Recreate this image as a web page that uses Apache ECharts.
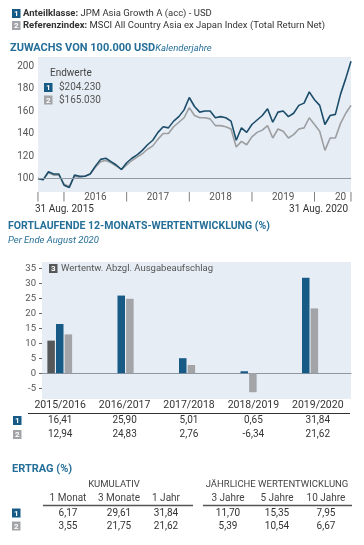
<!DOCTYPE html>
<html><head><meta charset="utf-8">
<script src="https://cdn.jsdelivr.net/npm/echarts@6/dist/echarts.min.js"></script>
<style>html,body{margin:0;padding:0;background:#fff}#c{width:364px;height:545px}</style>
</head><body><div id="c"></div>
<script>
// ---------- DATA ----------
const fundName = 'Anteilklasse:';
const fundText = 'JPM Asia Growth A (acc) - USD';
const idxName = 'Referenzindex:';
const idxText = 'MSCI All Country Asia ex Japan Index (Total Return Net)';

// monthly growth of 100 (Aug 2015 .. Aug 2020), values in thousand USD
const fundGrowth = [100,99,106,104,104,94,92,103,102,102,104,111,117,118,115,112,108,114,118,121,125,130,134,141,146,145,151,155,161,172,164,159,160,160,154,155,154,151,134,145,141,148,152,156,162,150,159,160,155,158,165,167,177,170,165,148,156,157,175,189,204.23];
const indexGrowth = [100,99,105,103,103,95,93,102,101,102,104,110,115,116,114,111,108,112,116,119,122,126,129,135,140,140,146,150,154,163,156,154,154,153,147,147,146,144,128,133,130,137,141,143,147,136,144,142,136,139,144,145,154,148,142,125,136,136,149,158,165.03];
const lineYTicks = [100,120,140,160,180,200];
const sepTickIdx = [0,5,17,29,41,53,60];
const yearTickIdx = [11,23,35,47,58];
const yearTickText = ['2016','2017','2018','2019','20'];
const startLabel = '31 Aug. 2015';
const endLabel = '31 Aug. 2020';

const barCats = ['2015/2016','2016/2017','2017/2018','2018/2019','2019/2020'];
const fundBars = [16.41,25.90,5.01,0.65,31.84];
const indexBars = [12.94,24.83,2.76,-6.34,21.62];
const chargeBars = [10.87,null,null,null,null];
const barYTicks = [-5,0,5,10,15,20,25,30,35];

const retGroups = ['KUMULATIV','JÄHRLICHE WERTENTWICKLUNG'];
const retHeaders = ['1 Monat','3 Monate','1 Jahr','3 Jahre','5 Jahre','10 Jahre'];
const fundRet = [6.17,29.61,31.84,11.70,15.35,7.95];
const indexRet = [3.55,21.75,21.62,5.39,10.54,6.67];

// ---------- STYLE ----------
const F = 'Roboto';
const TEAL = '#256f98';
const C1 = '#175a86', C2 = '#a2a4a7', C3 = '#555759';
const LINE1 = '#1c4d6a', LINE2 = '#9c9ea1';
const PANEL = '#e6edf4';
const TXT = '#333';

const months = [];
for (let i = 0; i <= 60; i++) { const m = (7 + i) % 12, y = 2015 + Math.floor((7 + i) / 12); months.push(y + '-' + String(m + 1).padStart(2, '0')); }
const fmt = v => v.toFixed(2).replace('.', ',');
const fmtUsd = v => '$' + Math.round(v * 1000).toString().replace(/\B(?=(\d{3})+(?!\d))/g, '.');

function badge(x, cy, n, color) {
  return { type: 'group', children: [
    { type: 'rect', shape: { x: x, y: cy - 4.5, width: 8.5, height: 9 }, style: { fill: color } },
    { type: 'text', x: x + 4.25, y: cy + 0.5, style: { text: String(n), fill: '#fff', fontFamily: F, fontWeight: 'bold', fontSize: 8, align: 'center', verticalAlign: 'middle' } }
  ]};
}
function txt(x, y, t, o) {
  o = o || {};
  return { type: 'text', x: x, y: y, style: Object.assign({ text: t, fill: TXT, fontFamily: F, fontSize: 10, align: 'left', verticalAlign: 'middle' }, o) };
}

const g = [];
// header
g.push(badge(12, 13.5, 1, C1));
g.push(txt(23, 13.5, '{b|' + fundName + '} ' + fundText, { fontSize: 9.5, rich: { b: { fontWeight: 'bold', fontSize: 9.5, fontFamily: F, fill: TXT } } }));
g.push(badge(12, 25.5, 2, C2));
g.push(txt(23, 25.5, '{b|' + idxName + '} ' + idxText, { fontSize: 9.5, rich: { b: { fontWeight: 'bold', fontSize: 9.5, fontFamily: F, fill: TXT } } }));
g.push(txt(10, 48.5, '{t|ZUWACHS VON 100.000 USD}{i|Kalenderjahre}', { rich: { t: { fontWeight: 'bold', fontSize: 11, fontFamily: F, fill: TEAL }, i: { fontStyle: 'italic', fontSize: 9.5, fontFamily: F, fill: TEAL } } }));
// line legend
g.push(txt(50, 73, 'Endwerte', { fill: '#444', fontSize: 10 }));
g.push(badge(44, 87.5, 1, C1));
g.push(txt(59, 87.5, fmtUsd(fundGrowth[fundGrowth.length - 1]), { fill: '#555', fontSize: 10 }));
g.push(badge(44, 100, 2, C2));
g.push(txt(59, 100, fmtUsd(indexGrowth[indexGrowth.length - 1]), { fill: '#555', fontSize: 10 }));
g.push(txt(35, 209, startLabel, { fill: TXT, fontSize: 10 }));
g.push(txt(348, 209, endLabel, { fill: TXT, fontSize: 10, align: 'right' }));
// bar section titles
g.push(txt(8, 226, 'FORTLAUFENDE 12-MONATS-WERTENTWICKLUNG (%)', { fill: TEAL, fontWeight: 'bold', fontSize: 10.5 }));
g.push(txt(8, 241, 'Per Ende August 2020', { fill: TEAL, fontStyle: 'italic', fontSize: 9.5 }));
g.push(badge(49, 268.5, 3, C3));
g.push(txt(61, 268.5, 'Wertentw. Abzgl. Ausgabeaufschlag', { fill: '#555', fontSize: 9.5 }));
// bar table
const colW = 64.4, col0 = 28;
barCats.forEach((c, i) => {
  const cx = col0 + colW * (i + 0.5);
  g.push(txt(cx, 405, c, { align: 'center', fontSize: 10.5 }));
  g.push(txt(cx, 420.5, fmt(fundBars[i]), { align: 'center', fontSize: 10 }));
  g.push(txt(cx, 434.5, fmt(indexBars[i]), { align: 'center', fontSize: 10 }));
});
g.push({ type: 'line', shape: { x1: 28, y1: 413.5, x2: 350, y2: 413.5 }, style: { stroke: '#333', lineWidth: 1 } });
g.push(badge(13, 420.5, 1, C1));
g.push(badge(13, 434.5, 2, C2));
// returns table
g.push(txt(12, 469, 'ERTRAG (%)', { fill: TEAL, fontWeight: 'bold', fontSize: 11 }));
g.push(txt(114, 485, retGroups[0], { align: 'center', fill: '#444', fontSize: 9.5 }));
g.push(txt(277, 485, retGroups[1], { align: 'center', fill: '#444', fontSize: 9.5 }));
const retCols = [68, 119, 166, 228, 277, 326];
retHeaders.forEach((h, i) => {
  g.push(txt(retCols[i], 498, h, { align: 'center', fill: '#444', fontSize: 10 }));
  g.push(txt(retCols[i], 513, fmt(fundRet[i]), { align: 'center', fontSize: 10 }));
  g.push(txt(retCols[i], 526, fmt(indexRet[i]), { align: 'center', fontSize: 10 }));
});
g.push({ type: 'line', shape: { x1: 43, y1: 505.5, x2: 193, y2: 505.5 }, style: { stroke: '#555', lineWidth: 1.3 } });
g.push({ type: 'line', shape: { x1: 203, y1: 505.5, x2: 352, y2: 505.5 }, style: { stroke: '#555', lineWidth: 1.3 } });
g.push(badge(12, 513, 1, C1));
g.push(badge(12, 526, 2, C2));

const option = {
  animation: false,
  textStyle: { fontFamily: F },
  graphic: g,
  grid: [
    { left: 38, top: 57, width: 313, height: 135, show: true, backgroundColor: PANEL, borderWidth: 0 },
    { left: 42, top: 262, width: 309, height: 137, show: true, backgroundColor: PANEL, borderWidth: 0 },
    { left: 29, top: 262, width: 307.5, height: 137, show: false }
  ],
  xAxis: [
    { gridIndex: 0, type: 'category', data: months, boundaryGap: false,
      axisLine: { show: false }, axisTick: { show: false },
      axisLabel: { show: true, showMinLabel: true, showMaxLabel: true, margin: 5, verticalAlign: 'middle', fontSize: 10, color: '#555',
        interval: (idx) => sepTickIdx.indexOf(idx) >= 0 || yearTickIdx.indexOf(idx) >= 0,
        formatter: (v, idx) => { const k = yearTickIdx.indexOf(idx); return k >= 0 ? yearTickText[k] : '|'; } } },
    { gridIndex: 1, type: 'category', data: barCats,
      axisLine: { show: true, onZero: true, lineStyle: { color: '#8d98a2', width: 1 } }, axisTick: { show: false }, axisLabel: { show: false } },
    { gridIndex: 2, type: 'category', data: barCats, show: false }
  ],
  yAxis: [
    { gridIndex: 0, type: 'value', min: 88, max: 208, splitLine: { show: false }, axisLine: { show: false }, axisTick: { show: false },
      axisLabel: { customValues: lineYTicks, margin: 4, fontSize: 10, color: '#555' } },
    { gridIndex: 1, type: 'value', min: -8.6, max: 37.1, splitLine: { show: false }, axisLine: { show: false },
      axisTick: { show: true, customValues: barYTicks, length: 3, lineStyle: { color: '#666' } },
      axisLabel: { customValues: barYTicks, margin: 6, fontSize: 9.5, color: '#555' } },
    { gridIndex: 2, type: 'value', min: -8.6, max: 37.1, show: false }
  ],
  series: [
    { type: 'line', xAxisIndex: 0, yAxisIndex: 0, data: indexGrowth, symbol: 'none', lineStyle: { color: LINE2, width: 1.6 }, z: 2,
      markLine: { silent: true, symbol: ['none', 'none'], label: { show: false }, lineStyle: { color: '#8e9aa5', width: 1, type: 'solid' }, data: [{ yAxis: 100 }] } },
    { type: 'line', xAxisIndex: 0, yAxisIndex: 0, data: fundGrowth, symbol: 'none', lineStyle: { color: LINE1, width: 1.6 }, z: 3 },
    { type: 'bar', xAxisIndex: 2, yAxisIndex: 2, data: chargeBars, barWidth: 7.5, barGap: '15%', itemStyle: { color: C3 } },
    { type: 'bar', xAxisIndex: 2, yAxisIndex: 2, data: fundBars, barWidth: 7.5, barGap: '15%', itemStyle: { color: C1 } },
    { type: 'bar', xAxisIndex: 2, yAxisIndex: 2, data: indexBars, barWidth: 7.5, barGap: '15%', itemStyle: { color: C2 } }
  ]
};
const chart = echarts.init(document.getElementById('c'), null, { renderer: 'canvas' });
chart.setOption(option);
</script></body></html>
